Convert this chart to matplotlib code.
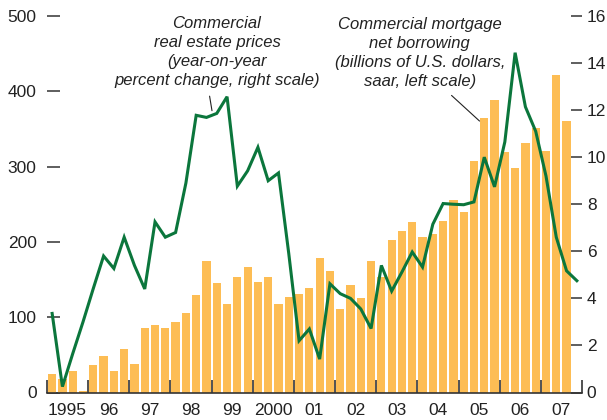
import matplotlib
matplotlib.use("Agg")
import matplotlib.pyplot as plt
import numpy as np

# ---- data ----
years = list(range(1995, 2008))
year_labels = ['1995', '96', '97', '98', '99', '2000', '01', '02', '03', '04', '05', '06', '07']

# Commercial mortgage net borrowing (billions USD, saar, left scale), quarterly 1995Q1-2007Q3
borrowing = [24, 18, 29, 2,
             37, 49, 28, 58,
             38, 85, 89, 86,
             93, 105, 130, 174,
             145, 117, 154, 167,
             147, 154, 118, 127,
             131, 139, 179, 161,
             111, 143, 126, 174,
             153, 202, 214, 226,
             207, 211, 228, 255,
             240, 308, 365, 388,
             320, 298, 331, 351,
             321, 421, 361]

# Commercial real estate prices (y/y % change, right scale), quarterly 1995Q1-2007Q4
prices = [3.36, 0.25, 1.65, 3.0,
          4.42, 5.8, 5.27, 6.6,
          5.4, 4.4, 7.25, 6.6,
          6.8, 8.9, 11.78, 11.69,
          11.86, 12.57, 8.77, 9.42,
          10.42, 9.0, 9.33, 5.9,
          2.2, 2.7, 1.42, 4.62,
          4.2, 4.0, 3.55, 2.72,
          5.4, 4.31, 5.12, 5.97,
          5.33, 7.15, 8.03, 8.0,
          7.98, 8.1, 10.0, 8.74,
          10.65, 14.44, 12.14, 11.1,
          9.2, 6.6, 5.17, 4.75]

left_ticks = [0, 100, 200, 300, 400, 500]
right_ticks = [0, 2, 4, 6, 8, 10, 12, 14, 16]

label_prices = "Commercial\nreal estate prices\n(year-on-year\npercent change, right scale)"
label_borrow = "Commercial mortgage\nnet borrowing\n(billions of U.S. dollars,\nsaar, left scale)"

# ---- style ----
FONT = ['Liberation Sans Narrow', 'Liberation Sans', 'DejaVu Sans']
plt.rcParams['font.family'] = FONT
BAR_C = '#FDBD54'
LINE_C = '#0B763C'
AX_C = '#333333'
TXT_C = '#222222'
TICK_FS = 12.5

W, H = 607, 420
fig = plt.figure(figsize=(W / 100, H / 100), dpi=100)
left, right, bottom, top = 47, 582, 392.5, 16
ax = fig.add_axes([left / W, 1 - bottom / H, (right - left) / W, (bottom - top) / H])
ax2 = ax.twinx()

xb = np.array([y + (q + 0.5) * 0.25 for y in years for q in range(4)])
ax.bar(xb[:len(borrowing)], borrowing, width=0.2, color=BAR_C, linewidth=0, zorder=2)
ax2.plot(xb[:len(prices)], prices, color=LINE_C, lw=2.2, solid_joinstyle='miter', zorder=3)

ax.set_xlim(1995, 2008)
ax.set_ylim(0, 500)
ax2.set_ylim(0, 16)

for a in (ax, ax2):
    for s in a.spines.values():
        s.set_visible(False)
ax.spines['bottom'].set_visible(True)
ax.spines['bottom'].set_color(AX_C)
ax.spines['bottom'].set_linewidth(1.2)
ax.spines['bottom'].set_zorder(4)

ax.set_yticks(left_ticks)
ax.set_yticklabels([str(t) for t in left_ticks])
ax.tick_params(axis='y', direction='in', length=9.4, width=1.1, color=AX_C,
               pad=7.5, labelsize=TICK_FS, labelcolor=TXT_C)
ax2.set_yticks(right_ticks)
ax2.set_yticklabels([str(t) for t in right_ticks])
ax2.tick_params(axis='y', direction='in', length=8, width=1.1, color=AX_C,
                pad=3.5, labelsize=TICK_FS, labelcolor=TXT_C)

ax.set_xticks([y + 0.5 for y in years])
ax.set_xticklabels(year_labels)
ax.set_xticks(list(range(1995, 2009)), minor=True)
ax.tick_params(axis='x', which='major', length=0, pad=7.5, labelsize=TICK_FS, labelcolor=TXT_C)
ax.tick_params(axis='x', which='minor', direction='in', length=9.4, width=1.2, color=AX_C)

# annotations
ax.text(1999.13, 452, label_prices, ha='center', va='center', fontsize=12,
        style='italic', linespacing=1.35, color=TXT_C)
ax.text(2004.06, 451, label_borrow, ha='center', va='center', fontsize=12,
        style='italic', linespacing=1.35, color=TXT_C)
ax2.annotate('', xy=(1999.02, 11.86), xytext=(1998.94, 12.71),
             arrowprops=dict(arrowstyle='-', lw=0.8, color=TXT_C))
ax.annotate('', xy=(2005.56, 358), xytext=(2004.78, 397),
            arrowprops=dict(arrowstyle='-', lw=0.8, color=TXT_C))

fig.savefig('out.png', dpi=100)
